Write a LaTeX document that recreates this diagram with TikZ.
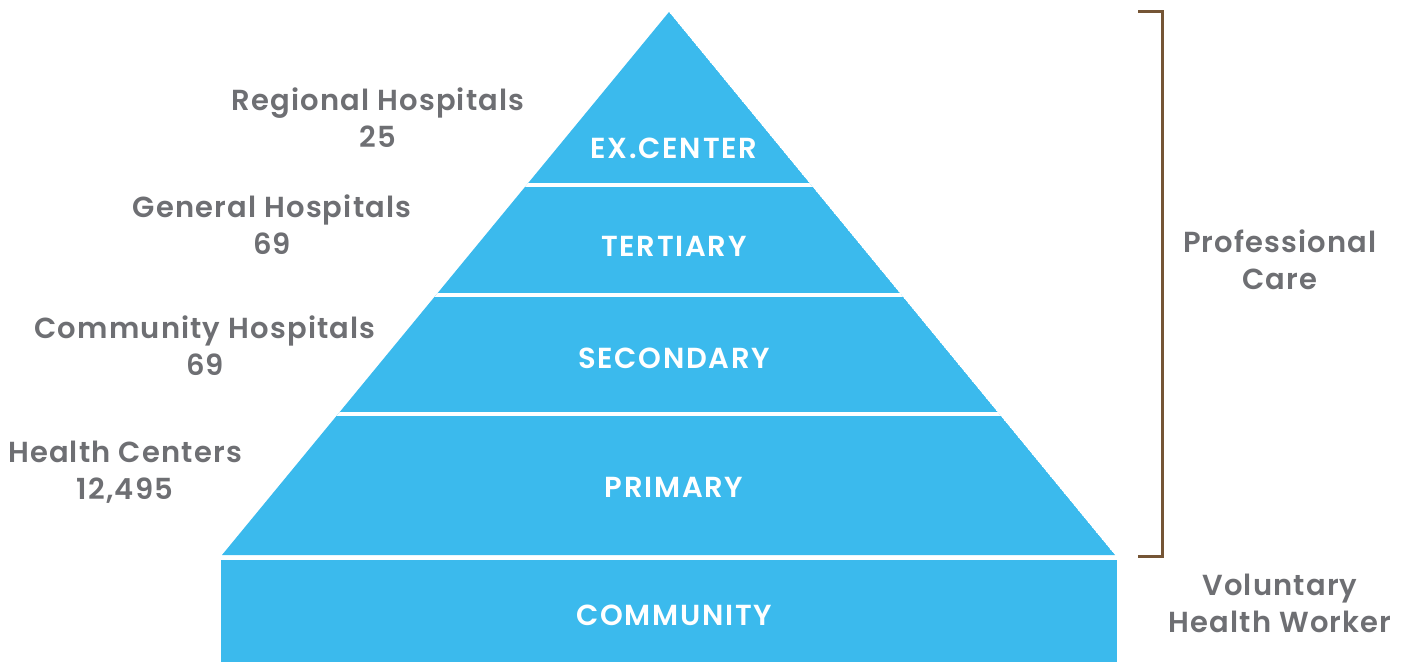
\documentclass[tikz,border=0pt]{standalone}
\usepackage{fontspec}
\setmainfont{Poppins}
\newfontfamily\medfont{Poppins Medium}
\newfontfamily\semifont{Poppins SemiBold}
\usetikzlibrary{calc}
\definecolor{pyrblue}{RGB}{59,186,237}
\definecolor{lblgray}{RGB}{110,111,115}
\definecolor{brackbrown}{RGB}{117,85,53}
\tikzset{
x=0.5pt, y=-0.5pt, % one unit is one pixel of the reference
level/.style={text=white, font=\semifont\fontsize{14.5}{17}\selectfont\addfontfeature{LetterSpace=6}}, % text inside the pyramid
side/.style={text=lblgray, align=center, font=\semifont\fontsize{14.5}{18.5}\selectfont\addfontfeature{LetterSpace=4}}, % gray labels beside it
gap/.style={white, line width=2.2pt}, % white strips between the levels
}

\begin{document}
\begin{tikzpicture}
        \useasboundingbox (0,0) rectangle (1408,662);

        \coordinate (apex) at (669,12);
        \coordinate (bl) at (222,555);
        \coordinate (br) at (1115,555);

        \begin{scope}
            \clip (apex) -- (bl) -- (br) -- cycle;
            \fill[pyrblue] (apex) -- (bl) -- (br) -- cycle;
            \draw[gap] (200,185) -- (1140,185);
            \draw[gap] (200,295) -- (1140,295);
            \draw[gap] (200,414) -- (1140,414);
        \end{scope}
        \fill[pyrblue] (221,560) rectangle (1117,662);

        \node[level] (excenter) at (674,148) {EX.CENTER};
        \node[level] (tertiary) at (674,246) {TERTIARY};
        \node[level] (secondary) at (674,358) {SECONDARY};
        \node[level] (primary) at (674,487) {PRIMARY};
        \node[level] (community) at (674,615) {COMMUNITY};

        \node[side] (regional) at (378,118) {Regional Hospitals\\25};
        \node[side] (general) at (272,225) {General Hospitals\\69};
        \node[side] (commhosp) at (205,346) {Community Hospitals\\69};
        \node[side] (healthc) at (125,472) {Health Centers\\12,495};

        \coordinate (btop) at (1138,12);
        \coordinate (bbot) at (1138,556);
        \draw[brackbrown, line width=1.5pt] (btop) -- ++(24,0) |- (bbot);

        \node[side] (professional) at (1280,260) {Professional\\Care};
        \node[side] (voluntary) at (1280,603) {Voluntary\\Health Worker};
    \end{tikzpicture}
\end{document}
